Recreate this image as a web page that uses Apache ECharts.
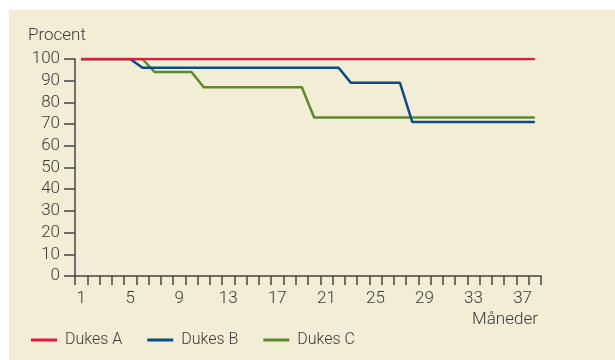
<!DOCTYPE html>
<html>
<head>
<meta charset="utf-8">
<script src="https://cdn.jsdelivr.net/npm/echarts@6/dist/echarts.min.js"></script>
<style>
html,body{margin:0;padding:0;background:#ffffff;}
#c{width:615px;height:360px;}
</style>
</head>
<body>
<div id="c"></div>
<script>
var months = [];
for (var m = 1; m <= 38; m++) months.push(String(m));
var dukesA = [100,100,100,100,100,100,100,100,100,100,100,100,100,100,100,100,100,100,100,100,100,100,100,100,100,100,100,100,100,100,100,100,100,100,100,100,100,100];
var dukesB = [100,100,100,100,100,96,96,96,96,96,96,96,96,96,96,96,96,96,96,96,96,96,89,89,89,89,89,71,71,71,71,71,71,71,71,71,71,71];
var dukesC = [100,100,100,100,100,100,94,94,94,94,87,87,87,87,87,87,87,87,87,73,73,73,73,73,73,73,73,73,73,73,73,73,73,73,73,73,73,73];
var yTicks = [0,10,20,30,40,50,60,70,80,90,100];

var font = 'Roboto';
var fw = 300;
var fs = 17;
var txt = '#3a3a3a';
var chart = echarts.init(document.getElementById('c'), null, {renderer: 'canvas'});
chart.setOption({
  animation: false,
  backgroundColor: '#ffffff',
  textStyle: {fontFamily: font},
  graphic: [{type: 'rect', z: -10, shape: {x: 9, y: 10, width: 606, height: 350}, style: {fill: '#f2eed6'}}],
  title: [
    {text: 'Procent', left: 28, top: 27, padding: 0, textStyle: {fontFamily: font, fontSize: fs, fontWeight: fw, color: txt}},
    {text: 'Måneder', left: 472, top: 311, padding: 0, textStyle: {fontFamily: font, fontSize: fs, fontWeight: fw, color: txt}}
  ],
  legend: {
    left: 31, top: 332, padding: 0,
    itemWidth: 26, itemHeight: 3, itemGap: 25, icon: 'rect',
    textStyle: {fontFamily: font, fontSize: 16, fontWeight: fw, color: txt, padding: [0,0,0,3]},
    data: ['Dukes A', 'Dukes B', 'Dukes C']
  },
  grid: {left: 75, right: 74, top: 59, bottom: 84, containLabel: false},
  xAxis: {
    type: 'category', data: months, boundaryGap: true,
    axisLine: {lineStyle: {color: '#444', width: 1.5}},
    axisTick: {show: true, interval: 0, length: 9, lineStyle: {color: '#444', width: 1.5}},
    axisLabel: {interval: 3, margin: 14, fontFamily: font, fontSize: fs, fontWeight: fw, color: txt},
    splitLine: {show: false}
  },
  yAxis: {
    type: 'value', min: 0, max: 100, interval: 10,
    axisLine: {show: true, lineStyle: {color: '#444', width: 1.5}},
    axisTick: {show: true, length: 11, lineStyle: {color: '#444', width: 1.5}},
    axisLabel: {margin: 15, fontFamily: font, fontSize: fs, fontWeight: fw, color: txt},
    splitLine: {show: false}
  },
  series: [
    {name: 'Dukes A', type: 'line', data: dukesA, showSymbol: false, z: 5, lineStyle: {color: '#e8173c', width: 2.5}, itemStyle: {color: '#e8173c'}},
    {name: 'Dukes B', type: 'line', data: dukesB, showSymbol: false, z: 4, lineStyle: {color: '#0b4a8b', width: 2.5}, itemStyle: {color: '#0b4a8b'}},
    {name: 'Dukes C', type: 'line', data: dukesC, showSymbol: false, z: 3, lineStyle: {color: '#5c8a2a', width: 2.5}, itemStyle: {color: '#5c8a2a'}}
  ]
});
</script>
</body>
</html>
